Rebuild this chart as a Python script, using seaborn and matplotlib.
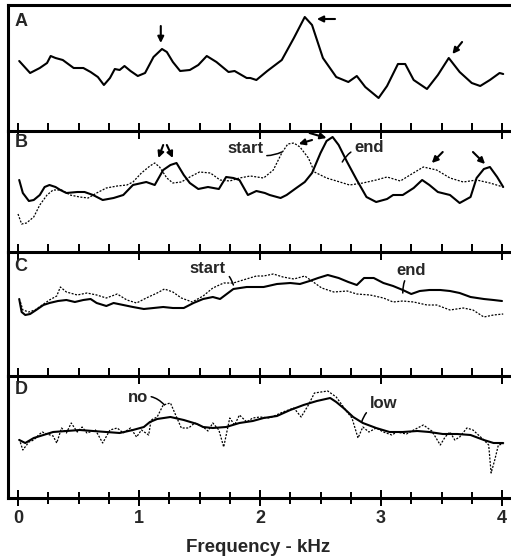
import numpy as np
import pandas as pd
import matplotlib
matplotlib.use("Agg")
import matplotlib.pyplot as plt
import seaborn as sns
from matplotlib.ticker import MultipleLocator

sns.set_style("ticks")
plt.rcParams["font.family"] = ["Liberation Sans", "DejaVu Sans"]
plt.rcParams["font.weight"] = "bold"

# ---------------- data (frequency in kHz, level in arbitrary units) ----------------
a_freq = [0.01, 0.04, 0.10, 0.18, 0.24, 0.27, 0.31, 0.37, 0.46, 0.54,
          0.60, 0.66, 0.71, 0.76, 0.80, 0.84, 0.88, 0.93, 0.99, 1.05,
          1.12, 1.19, 1.23, 1.28, 1.34, 1.42, 1.49, 1.56, 1.64, 1.74,
          1.79, 1.89, 1.92, 1.97, 2.06, 2.18, 2.28, 2.37, 2.43, 2.52,
          2.63, 2.73, 2.80, 2.87, 2.98, 3.05, 3.14, 3.20, 3.27, 3.38,
          3.47, 3.56, 3.65, 3.75, 3.82, 3.90, 3.98, 4.01]
a_level = [70, 66, 58, 63, 68, 75, 73, 71, 63, 63,
           59, 54, 46, 53, 62, 61, 65, 60, 55, 58,
           74, 82, 79, 69, 60, 61, 66, 75, 69, 59,
           60, 53, 53, 51, 60, 71, 93, 114, 106, 73,
           54, 49, 55, 44, 33, 45, 67, 67, 51, 42,
           56, 73, 59, 48, 45, 51, 58, 57]

b_end_freq = [0.01, 0.04, 0.09, 0.13, 0.18, 0.22, 0.26, 0.31, 0.35, 0.40,
              0.49, 0.55, 0.62, 0.70, 0.79, 0.87, 0.95, 1.06, 1.13, 1.20,
              1.26, 1.31, 1.37, 1.42, 1.49, 1.57, 1.66, 1.72, 1.78, 1.83,
              1.90, 1.97, 2.04, 2.08, 2.17, 2.22, 2.30, 2.37, 2.43, 2.50,
              2.55, 2.60, 2.65, 2.72, 2.80, 2.88, 2.96, 3.05, 3.10, 3.18,
              3.27, 3.34, 3.40, 3.47, 3.57, 3.65, 3.74, 3.79, 3.85, 3.90,
              3.96, 4.01]
b_end_level = [72, 59, 51, 52, 57, 65, 67, 65, 62, 59,
               60, 60, 57, 52, 54, 57, 67, 70, 67, 82,
               87, 89, 77, 69, 63, 65, 63, 75, 74, 72,
               57, 61, 59, 57, 54, 57, 64, 70, 79, 99,
               111, 115, 107, 90, 72, 55, 50, 53, 57, 57,
               64, 72, 67, 60, 57, 49, 55, 74, 83, 85,
               75, 65]

b_start_freq = [0.00, 0.03, 0.07, 0.13, 0.18, 0.24, 0.29, 0.36, 0.43, 0.51,
                0.58, 0.65, 0.73, 0.82, 0.90, 0.95, 1.02, 1.09, 1.13, 1.17,
                1.23, 1.28, 1.35, 1.42, 1.50, 1.59, 1.67, 1.75, 1.83, 1.92,
                2.03, 2.11, 2.18, 2.23, 2.28, 2.33, 2.40, 2.45, 2.55, 2.66,
                2.74, 2.85, 2.96, 3.05, 3.16, 3.24, 3.35, 3.46, 3.57, 3.68,
                3.79, 3.90, 4.01]
b_start_level = [38, 28, 29, 35, 47, 57, 62, 62, 57, 55,
                 54, 59, 64, 66, 67, 70, 79, 86, 89, 85,
                 74, 69, 70, 75, 80, 79, 72, 71, 74, 76,
                 74, 82, 99, 108, 109, 105, 94, 80, 74, 70,
                 67, 69, 72, 75, 71, 77, 85, 82, 74, 70,
                 72, 69, 65]

c_end_freq = [0.01, 0.03, 0.06, 0.10, 0.15, 0.21, 0.26, 0.33, 0.40, 0.47,
              0.54, 0.60, 0.65, 0.73, 0.79, 0.87, 0.95, 1.04, 1.12, 1.20,
              1.28, 1.37, 1.45, 1.53, 1.61, 1.67, 1.78, 1.89, 1.99, 2.03,
              2.14, 2.25, 2.33, 2.41, 2.48, 2.56, 2.65, 2.73, 2.80, 2.86,
              2.94, 3.02, 3.10, 3.18, 3.25, 3.32, 3.40, 3.49, 3.57, 3.65,
              3.74, 3.85, 3.93, 4.00]
c_end_level = [77, 64, 61, 62, 66, 71, 73, 75, 76, 74,
               76, 77, 73, 70, 73, 71, 69, 67, 68, 69,
               68, 68, 73, 77, 79, 77, 87, 89, 89, 89,
               92, 93, 92, 95, 98, 101, 98, 94, 91, 98,
               98, 93, 90, 86, 82, 85, 86, 86, 85, 83,
               79, 77, 76, 75]

c_start_freq = [0.02, 0.04, 0.09, 0.14, 0.20, 0.26, 0.32, 0.35, 0.40, 0.49,
                0.57, 0.65, 0.73, 0.82, 0.90, 0.98, 1.06, 1.15, 1.21, 1.28,
                1.35, 1.44, 1.53, 1.61, 1.70, 1.78, 1.86, 1.97, 2.03, 2.11,
                2.19, 2.28, 2.37, 2.44, 2.51, 2.61, 2.72, 2.80, 2.91, 3.02,
                3.10, 3.18, 3.27, 3.38, 3.46, 3.57, 3.68, 3.76, 3.85, 3.93,
                4.01]
c_start_level = [74, 66, 64, 66, 71, 76, 80, 89, 84, 81,
                 83, 81, 78, 82, 76, 73, 78, 83, 87, 84,
                 78, 74, 80, 88, 93, 93, 96, 100, 100, 102,
                 99, 97, 100, 94, 88, 84, 85, 82, 81, 78,
                 74, 75, 74, 71, 71, 66, 68, 66, 59, 61,
                 62]

d_low_freq = [0.01, 0.06, 0.13, 0.21, 0.29, 0.40, 0.51, 0.62, 0.73, 0.84,
              0.95, 1.04, 1.09, 1.15, 1.26, 1.37, 1.48, 1.53, 1.61, 1.72,
              1.83, 1.94, 2.03, 2.14, 2.25, 2.36, 2.47, 2.58, 2.63, 2.69,
              2.77, 2.85, 2.96, 3.07, 3.18, 3.30, 3.40, 3.51, 3.63, 3.74,
              3.85, 3.93, 4.01]
d_low_level = [58, 55, 60, 63, 66, 67, 68, 67, 66, 65,
               68, 71, 76, 79, 81, 78, 74, 71, 70, 71,
               75, 77, 80, 82, 88, 93, 97, 100, 96, 90,
               81, 75, 70, 66, 66, 67, 66, 64, 64, 63,
               58, 55, 55]

d_no_freq = [0.01, 0.04, 0.09, 0.13, 0.17, 0.20, 0.24, 0.29, 0.32, 0.36,
             0.40, 0.44, 0.49, 0.53, 0.57, 0.64, 0.70, 0.76, 0.82, 0.87,
             0.93, 0.98, 1.02, 1.08, 1.10, 1.15, 1.20, 1.26, 1.31, 1.35,
             1.41, 1.46, 1.53, 1.57, 1.61, 1.66, 1.70, 1.75, 1.79, 1.83,
             1.89, 1.94, 2.00, 2.08, 2.19, 2.28, 2.34, 2.40, 2.45, 2.56,
             2.63, 2.72, 2.76, 2.81, 2.85, 2.90, 2.96, 3.02, 3.09, 3.13,
             3.21, 3.27, 3.35, 3.42, 3.49, 3.53, 3.57, 3.61, 3.65, 3.71,
             3.76, 3.85, 3.89, 3.91, 3.94, 3.97, 4.01]
d_no_level = [59, 48, 56, 58, 63, 66, 64, 62, 55, 70,
              65, 75, 66, 71, 65, 68, 55, 68, 70, 65,
              70, 61, 68, 63, 78, 81, 93, 95, 81, 70,
              70, 75, 71, 67, 75, 68, 51, 80, 73, 83,
              76, 80, 81, 80, 86, 90, 81, 93, 105, 107,
              101, 86, 80, 60, 71, 66, 70, 66, 63, 66,
              64, 68, 73, 67, 53, 61, 66, 58, 61, 70,
              68, 58, 53, 25, 38, 53, 54]

panel_labels = ["A", "B", "C", "D"]
major_ticks = [0, 1, 2, 3, 4]
minor_ticks = [0.25, 0.5, 0.75, 1.25, 1.5, 1.75, 2.25, 2.5, 2.75,
               3.25, 3.5, 3.75]
x_label = "Frequency - kHz"

# ---------------- figure ----------------
W, H = 511, 557
fig = plt.figure(figsize=(W / 100, H / 100), dpi=100)
fig.patch.set_facecolor("white")
heights = [126, 121, 124, 122]
gs = fig.add_gridspec(4, 1, height_ratios=heights, hspace=0,
                      left=8 / W, right=509 / W, top=1 - 5 / H, bottom=1 - 498 / H)
axes = [fig.add_subplot(gs[i]) for i in range(4)]

solid_kw = dict(color="black", lw=1.5, estimator=None, sort=False)
dot_kw = dict(color="black", lw=0.9, estimator=None, sort=False, linestyle=(0, (1.6, 1.2)))


def draw(ax, fx, fy, kw):
    df = pd.DataFrame({"freq": fx, "level": fy})
    sns.lineplot(data=df, x="freq", y="level", ax=ax, **kw)


draw(axes[0], a_freq, a_level, solid_kw)
draw(axes[1], b_start_freq, b_start_level, dot_kw)
draw(axes[1], b_end_freq, b_end_level, solid_kw)
draw(axes[2], c_start_freq, c_start_level, dot_kw)
draw(axes[2], c_end_freq, c_end_level, solid_kw)
draw(axes[3], d_no_freq, d_no_level, dot_kw)
draw(axes[3], d_low_freq, d_low_level, solid_kw)

label_offsets_px = [16, 11, 14.5, 14]


def style_ticks(ax, i):
    ax.xaxis.set_major_locator(MultipleLocator(1))
    ax.xaxis.set_minor_locator(MultipleLocator(0.25))
    ax.tick_params(axis="x", which="major", direction="inout", length=11,
                   width=1.3, color="black", bottom=True, top=False,
                   labelbottom=(i == 3), labelsize=13, pad=3)
    ax.tick_params(axis="x", which="minor", direction=("inout" if i == 3 else "in"),
                   length=(9 if i == 3 else 6), width=1.3, color="black",
                   bottom=True, top=False)


for i, ax in enumerate(axes):
    ax.patch.set_visible(False)
    ax.set_xlim(-10 / 121, 491 / 121)
    ax.set_ylim(0, heights[i])
    ax.set_yticks([])
    ax.set_xlabel("")
    ax.set_ylabel("")
    ax.spines["right"].set_visible(False)
    ax.spines["top"].set_visible(i == 0)
    for s in ["top", "bottom", "left"]:
        ax.spines[s].set_linewidth(2.2)
        ax.spines[s].set_color("black")
    style_ticks(ax, i)
    # tick marks also drawn as plain line segments on the panel's bottom edge
    hpx = heights[i]
    xt = ax.get_xaxis_transform()
    if i == 3:
        lo_minor, hi_minor = -6.25 / hpx, 6.25 / hpx
    else:
        lo_minor, hi_minor = 0.0, 8.3 / hpx
    for t in minor_ticks:
        ax.plot([t, t], [lo_minor, hi_minor], transform=xt, color="black",
                lw=1.3, clip_on=False, zorder=5, solid_capstyle="butt")
    for t in major_ticks:
        ax.plot([t, t], [-7.6 / hpx, 7.6 / hpx], transform=xt, color="black",
                lw=1.3, clip_on=False, zorder=5, solid_capstyle="butt")
    ax.annotate(panel_labels[i], xy=(0, 1), xycoords="axes fraction",
                xytext=(4.5, -label_offsets_px[i] * 0.72), textcoords="offset points",
                ha="left", va="center", fontsize=13, fontweight="bold")

for lab in axes[3].get_xticklabels():
    lab.set_fontweight("bold")
axes[3].set_xlabel(x_label, fontsize=13.5, fontweight="bold", labelpad=9)

arrow = dict(arrowstyle="-|>", color="black", lw=1.5, mutation_scale=9,
             shrinkA=0, shrinkB=0)
lead = dict(arrowstyle="-", color="black", lw=1.1, shrinkA=0, shrinkB=0)

# Panel A arrows
ax = axes[0]
ax.annotate("", xy=(1.18, 88), xytext=(1.18, 105), arrowprops=arrow)
ax.annotate("", xy=(2.47, 112), xytext=(2.62, 112), arrowprops=arrow)
ax.annotate("", xy=(3.59, 77), xytext=(3.67, 89), arrowprops=arrow)

# Panel B
ax = axes[1]
ax.annotate("", xy=(1.16, 94), xytext=(1.20, 107), arrowprops=arrow)
ax.annotate("", xy=(1.28, 94), xytext=(1.23, 107), arrowprops=arrow)
ax.annotate("", xy=(2.32, 108), xytext=(2.43, 112), arrowprops=arrow)
ax.annotate("", xy=(2.55, 114), xytext=(2.41, 119), arrowprops=arrow)
ax.annotate("", xy=(3.42, 89), xytext=(3.51, 100), arrowprops=arrow)
ax.annotate("", xy=(3.86, 88), xytext=(3.76, 100), arrowprops=arrow)
ax.annotate("start", xy=(2.18, 100), xytext=(1.88, 104), ha="center", va="center",
            fontsize=12, fontweight="bold",
            arrowprops=dict(lead, connectionstyle="arc3,rad=0.3"))
ax.annotate("end", xy=(2.68, 90), xytext=(2.90, 105), ha="center", va="center",
            fontsize=12, fontweight="bold",
            arrowprops=dict(lead, connectionstyle="arc3,rad=0.3"))

# Panel C
ax = axes[2]
ax.annotate("start", xy=(1.78, 91), xytext=(1.57, 108), ha="center", va="center",
            fontsize=12, fontweight="bold",
            arrowprops=dict(lead, connectionstyle="arc3,rad=-0.4"))
ax.annotate("end", xy=(3.18, 83), xytext=(3.25, 106), ha="center", va="center",
            fontsize=12, fontweight="bold",
            arrowprops=dict(lead, connectionstyle="arc3,rad=0.2"))

# Panel D
ax = axes[3]
ax.annotate("no", xy=(1.21, 93), xytext=(0.99, 101), ha="center", va="center",
            fontsize=12, fontweight="bold",
            arrowprops=dict(lead, connectionstyle="arc3,rad=-0.3"))
ax.annotate("low", xy=(2.84, 76), xytext=(3.02, 95), ha="center", va="center",
            fontsize=12, fontweight="bold",
            arrowprops=dict(lead, connectionstyle="arc3,rad=0.3"))

for i, ax in enumerate(axes):
    style_ticks(ax, i)
    ax.set_xlim(-10 / 121, 491 / 121)
    ax.set_ylim(0, heights[i])

fig.canvas.draw()
fig.savefig("out.png", dpi=100, facecolor="white")
